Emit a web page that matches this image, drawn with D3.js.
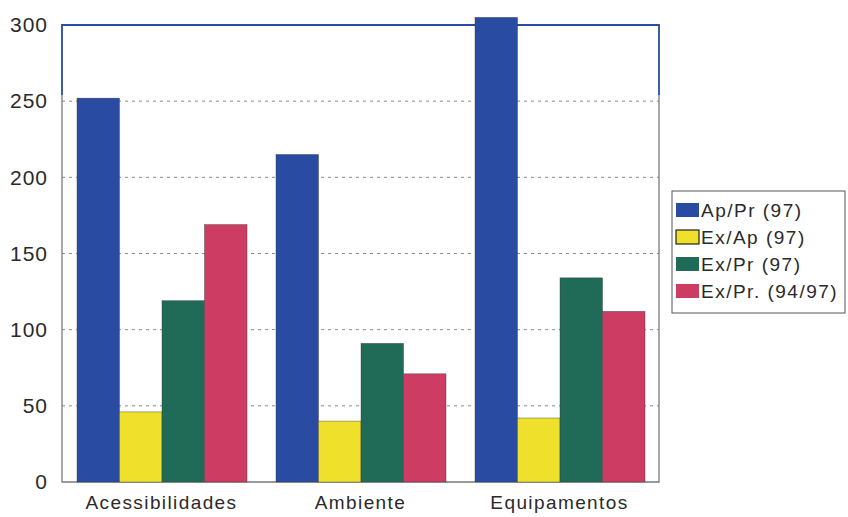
<!DOCTYPE html>
<html>
<head>
<meta charset="utf-8">
<script src="https://cdn.jsdelivr.net/npm/d3@7"></script>
<style>
  body { margin: 0; background: #fff; }
  text { font-family: "Liberation Sans", Arial, sans-serif; fill: #2a2a2a; }
</style>
</head>
<body>
<div id="container"></div>
<script>
// data
const categories = ["Acessibilidades", "Ambiente", "Equipamentos"];
const seriesNames = ["Ap/Pr (97)", "Ex/Ap (97)", "Ex/Pr (97)", "Ex/Pr. (94/97)"];
const apPr97 = [252, 215, 305];
const exAp97 = [46, 40, 42];
const exPr97 = [119, 91, 134];
const exPr9497 = [169, 71, 112];
const yTicks = [0, 50, 100, 150, 200, 250, 300];
const colors = ["#2a4ba2", "#efe02c", "#1f6b57", "#cd3c62"];

const seriesValues = [apPr97, exAp97, exPr97, exPr9497];

const chartW = 848, chartH = 517;
const plotLeft = 62, plotRight = 659, plotTop = 25, plotBottom = 482;

const svg = d3.select("#container").append("svg")
    .attr("width", chartW)
    .attr("height", chartH);

const yScale = d3.scaleLinear().domain([0, 300]).range([plotBottom, plotTop]);

const x0 = d3.scaleBand().domain(categories).range([plotLeft, plotRight]);
const x1 = d3.scaleBand().domain(seriesNames).range([15, x0.bandwidth() - 14]);

// gridlines
svg.append("g")
    .selectAll("line")
    .data(yTicks.filter(t => t > 0 && t < 300))
    .enter().append("line")
    .attr("x1", plotLeft).attr("x2", plotRight)
    .attr("y1", d => yScale(d)).attr("y2", d => yScale(d))
    .attr("stroke", "#8a8a8a")
    .attr("stroke-width", 1)
    .attr("stroke-dasharray", "3,4");

// frame: grey lower part, blue upper part
const blueFrom = yScale(254);
svg.append("path")
    .attr("d", `M${plotLeft},${blueFrom}V${plotBottom}H${plotRight}V${blueFrom}`)
    .attr("fill", "none").attr("stroke", "#7a7a7a").attr("stroke-width", 1.3);
svg.append("path")
    .attr("d", `M${plotLeft},${blueFrom}V${plotTop}H${plotRight}V${blueFrom}`)
    .attr("fill", "none").attr("stroke", "#2a4ba2").attr("stroke-width", 1.8);

// bars
const groups = svg.append("g")
    .selectAll("g")
    .data(categories)
    .enter().append("g")
    .attr("transform", d => `translate(${x0(d)},0)`);

groups.selectAll("rect")
    .data((c, ci) => seriesNames.map((s, si) => ({ s: s, si: si, v: seriesValues[si][ci] })))
    .enter().append("rect")
    .attr("x", d => x1(d.s))
    .attr("width", x1.bandwidth())
    .attr("y", d => yScale(d.v))
    .attr("height", d => plotBottom - yScale(d.v))
    .attr("fill", d => colors[d.si])
    .attr("stroke", "#3a3a3a")
    .attr("stroke-width", 0.4);

// y axis labels
const yAxis = svg.append("g")
    .attr("transform", `translate(${plotLeft},0)`)
    .call(d3.axisLeft(yScale).tickValues(yTicks).tickSize(0).tickPadding(14));
yAxis.select(".domain").remove();
yAxis.selectAll("text")
    .style("font-size", "21px")
    .style("letter-spacing", "1px")
    .attr("fill", "#2a2a2a");

// x axis labels
const xAxis = svg.append("g")
    .attr("transform", `translate(0,${plotBottom})`)
    .call(d3.axisBottom(x0).tickSize(0).tickPadding(14));
xAxis.select(".domain").remove();
xAxis.selectAll("text")
    .style("font-size", "19px")
    .style("letter-spacing", "1.4px")
    .attr("fill", "#2a2a2a");

// legend
const legend = svg.append("g").attr("transform", "translate(672,191)");
legend.append("rect")
    .attr("width", 173).attr("height", 122)
    .attr("fill", "#fff").attr("stroke", "#555").attr("stroke-width", 1);

const item = legend.selectAll("g.item")
    .data(seriesNames)
    .enter().append("g")
    .attr("class", "item")
    .attr("transform", (d, i) => `translate(4,${19 + i * 27})`);

item.append("rect")
    .attr("x", 0).attr("y", -7)
    .attr("width", 23).attr("height", 14)
    .attr("fill", (d, i) => colors[i])
    .attr("stroke", (d, i) => i === 1 ? "#222" : "none")
    .attr("stroke-width", 1.2);

item.append("text")
    .attr("x", 25).attr("y", 7)
    .style("font-size", "19px")
    .style("letter-spacing", "1.5px")
    .text(d => d);
</script>
</body>
</html>
